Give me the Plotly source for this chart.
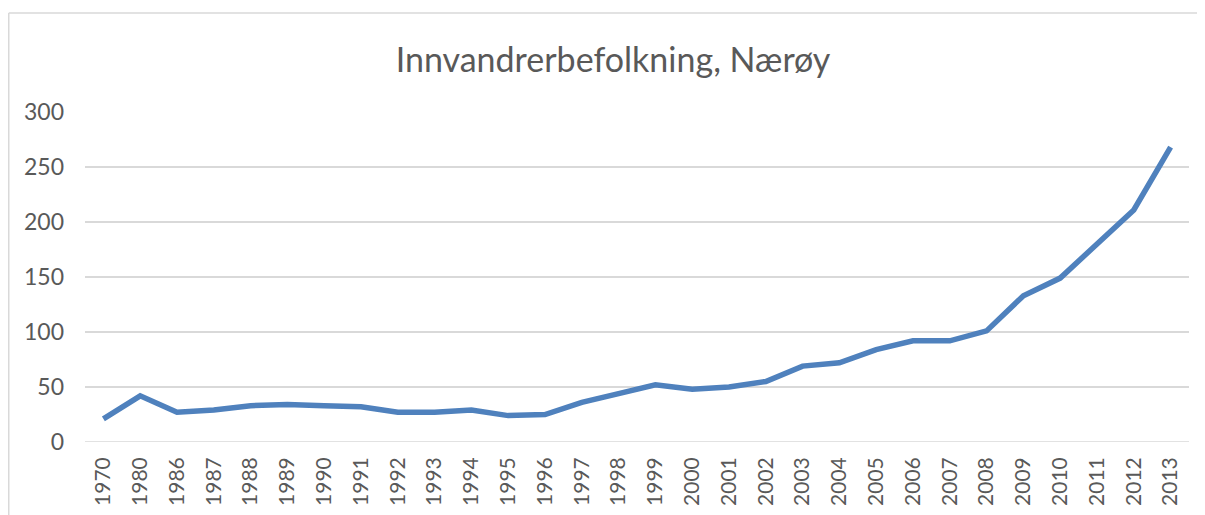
import plotly.graph_objects as go

years = ["1970", "1980", "1986", "1987", "1988", "1989", "1990", "1991", "1992", "1993",
         "1994", "1995", "1996", "1997", "1998", "1999", "2000", "2001", "2002", "2003",
         "2004", "2005", "2006", "2007", "2008", "2009", "2010", "2011", "2012", "2013"]
values = [21, 42, 27, 29, 33, 34, 33, 32, 27, 27,
          29, 24, 25, 36, 44, 52, 48, 50, 55, 69,
          72, 84, 92, 92, 101, 133, 149, 180, 211, 268]
y_ticks = [0, 50, 100, 150, 200, 250, 300]

FONT = "Lato, sans-serif"
TXT = "#595959"
GRID = "#d9d9d9"

# page has an 8px body margin; figure coords = screen coords - 8
W, H = 1197, 507
L, T = 77, 104
R = W - 1181
B = H - 434
pw, ph = W - L - R, H - T - B

fig = go.Figure()
fig.add_trace(go.Scatter(
    x=years, y=values, mode="lines",
    line=dict(color="#4f81bd", width=5.5),
    hoverinfo="x+y", showlegend=False,
))

fig.update_layout(
    width=W, height=H,
    margin=dict(l=L, r=R, t=T, b=B, pad=0, autoexpand=False),
    paper_bgcolor="white", plot_bgcolor="white",
    title=dict(text="Innvandrerbefolkning, Nærøy", x=605 / W, xanchor="center",
               y=1 - 52 / H, yanchor="middle", yref="container",
               font=dict(family=FONT, size=34, color=TXT)),
    font=dict(family=FONT, color=TXT, size=20),
    xaxis=dict(type="category", tickangle=-90, showgrid=False, zeroline=False,
               showline=False, ticks="", range=[-0.5, len(years) - 0.5],
               ticklabelstandoff=10, automargin=False,
               tickfont=dict(family=FONT, size=21, color=TXT)),
    yaxis=dict(range=[0, 300], tickvals=y_ticks, showgrid=True, gridcolor=GRID,
               gridwidth=1.5, zeroline=False, showline=False, ticks="",
               ticklabelstandoff=20, automargin=False,
               tickfont=dict(family=FONT, size=23, color=TXT)),
)

fig.add_shape(type="line", xref="paper", yref="y", x0=0, x1=1, y0=0, y1=0,
              line=dict(color=GRID, width=1.5), layer="below")

# chart border (top and left visible)
bx = (0.75 - L) / pw
by = (H - B - 5) / ph
fig.add_shape(type="line", xref="paper", yref="paper", x0=bx, x1=bx, y0=-1, y1=by,
              line=dict(color=GRID, width=1.5))
fig.add_shape(type="line", xref="paper", yref="paper", x0=bx, x1=1.5, y0=by, y1=by,
              line=dict(color=GRID, width=1.5))

fig.write_html("out.html")
